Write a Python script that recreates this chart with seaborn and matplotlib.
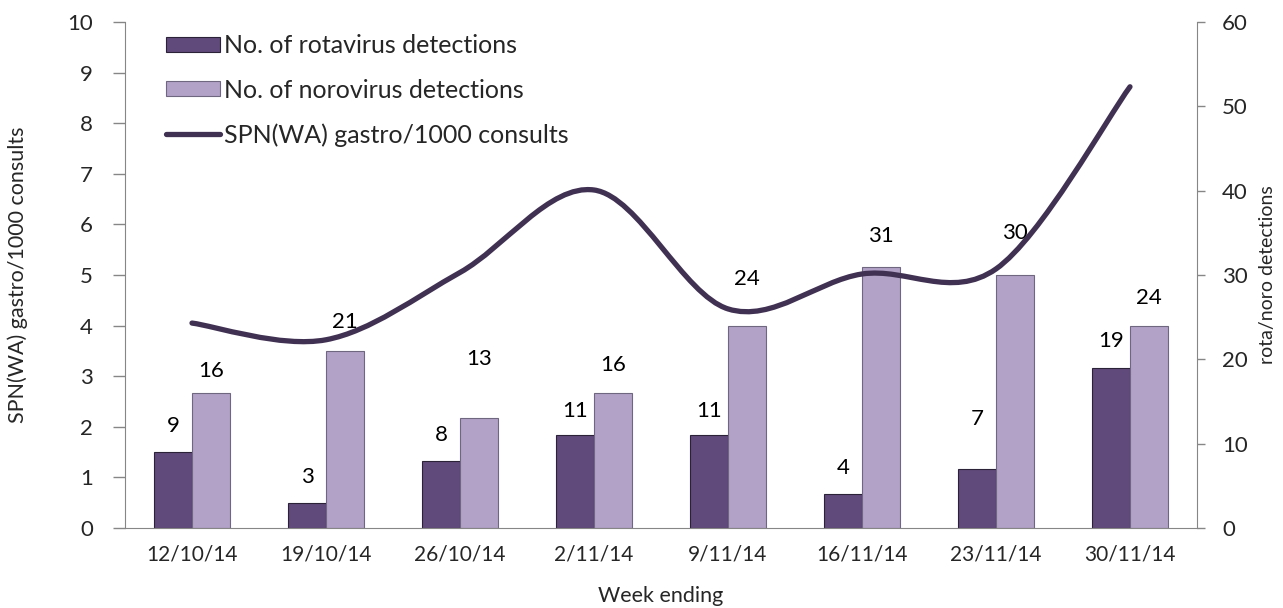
import numpy as np
import pandas as pd
import matplotlib
matplotlib.use("Agg")
import matplotlib.pyplot as plt
from matplotlib.path import Path
from matplotlib.patches import PathPatch, Patch
from matplotlib.lines import Line2D
import seaborn as sns

# data
weeks = ["12/10/14", "19/10/14", "26/10/14", "2/11/14", "9/11/14", "16/11/14", "23/11/14", "30/11/14"]
rota = [9, 3, 8, 11, 11, 4, 7, 19]
noro = [16, 21, 13, 16, 24, 31, 30, 24]
gastro = [4.05, 3.72, 5.05, 6.68, 4.33, 5.02, 5.12, 8.72]

rota_name = "No. of rotavirus detections"
noro_name = "No. of norovirus detections"
line_name = "SPN(WA) gastro/1000 consults"

# label nudges above bar tops, in pixels (Excel labels were moved by hand)
rota_dy = [26, 26, 26, 24, 24, 26, 50, 27]
noro_dy = [22, 29, 59, 28, 47, 31, 42, 28]

ROTA_C = "#604A7B"
NORO_C = "#B3A2C7"
LINE_C = "#403152"
AXIS_C = "#868686"

sns.set_style("white")
plt.rcParams["font.family"] = ["Lato", "DejaVu Sans"]

df = pd.DataFrame({
    "week": weeks * 2,
    "count": rota + noro,
    "virus": [rota_name] * len(weeks) + [noro_name] * len(weeks),
})

fig = plt.figure(figsize=(12.83, 6.08), dpi=100)
ax = fig.add_axes([125 / 1283, 1 - 528 / 608, (1197 - 125) / 1283, (528 - 22) / 608])

sns.barplot(data=df, x="week", y="count", hue="virus", order=weeks,
            hue_order=[rota_name, noro_name], palette=[ROTA_C, NORO_C],
            width=0.567, gap=0, saturation=1, ax=ax, legend=False)

for bar in ax.containers[0]:
    bar.set_edgecolor("#2B2238")
    bar.set_linewidth(0.8)
for bar in ax.containers[1]:
    bar.set_edgecolor("#6F6680")
    bar.set_linewidth(0.8)

# data labels
for cont, dys in [(ax.containers[0], rota_dy), (ax.containers[1], noro_dy)]:
    for bar, dy in zip(cont, dys):
        h = bar.get_height()
        ax.annotate(f"{int(h)}", (bar.get_x() + bar.get_width() / 2, h),
                    xytext=(0, dy), textcoords="offset pixels",
                    ha="center", va="center", fontsize=16, color="black")

# line on the left axis (twin sits above the bars)
lax = ax.twinx()

ax.set_ylim(0, 60)
ax.set_xlim(-0.5, len(weeks) - 0.5)
ax.yaxis.tick_right()
ax.yaxis.set_label_position("right")
ax.set_yticks(np.arange(0, 61, 10))
ax.set_ylabel("rota/noro detections", fontsize=14, labelpad=8)
ax.set_xlabel("Week ending", fontsize=15.5, labelpad=15)

# category labels centred, tick marks on boundaries
ax.set_xticks(np.arange(-0.5, len(weeks), 1))
ax.set_xticklabels([])
ax.set_xticks(np.arange(len(weeks)), minor=True)
ax.set_xticklabels(weeks, minor=True, fontsize=15)
ax.tick_params(axis="x", which="major", length=7, width=1, color=AXIS_C, direction="out")
ax.tick_params(axis="x", which="minor", length=0, pad=12)
ax.tick_params(axis="y", length=6, width=1, color=AXIS_C, labelsize=16, pad=12, direction="out")

lax.yaxis.tick_left()
lax.yaxis.set_label_position("left")
lax.set_ylim(0, 10)
lax.set_yticks(np.arange(0, 11, 1))
lax.tick_params(axis="y", length=9, width=1, color=AXIS_C, labelsize=16, pad=14, direction="out")
lax.set_ylabel(line_name, fontsize=15.5, labelpad=28)

# smoothed like Excel: Bezier segments through the points
xs = np.arange(len(gastro), dtype=float)
ys = np.array(gastro)
verts = [(xs[0], ys[0])]
codes = [Path.MOVETO]
n = len(xs)
for i in range(n - 1):
    p0 = np.array([xs[max(i - 1, 0)], ys[max(i - 1, 0)]])
    p1 = np.array([xs[i], ys[i]])
    p2 = np.array([xs[i + 1], ys[i + 1]])
    p3 = np.array([xs[min(i + 2, n - 1)], ys[min(i + 2, n - 1)]])
    c1 = p1 + (p2 - p0) / 6
    c2 = p2 - (p3 - p1) / 6
    verts += [tuple(c1), tuple(c2), tuple(p2)]
    codes += [Path.CURVE4] * 3
lax.add_patch(PathPatch(Path(verts, codes), facecolor="none", edgecolor=LINE_C,
                        linewidth=3.8, capstyle="round", zorder=3))

for a in (ax, lax):
    for s in a.spines.values():
        s.set_visible(False)
ax.spines["bottom"].set_visible(True)
ax.spines["bottom"].set_color(AXIS_C)
ax.spines["right"].set_visible(True)
ax.spines["right"].set_color(AXIS_C)
lax.spines["left"].set_visible(True)
lax.spines["left"].set_color(AXIS_C)

handles = [Patch(facecolor=ROTA_C, edgecolor="#2B2238", linewidth=0.8),
           Patch(facecolor=NORO_C, edgecolor="#6F6680", linewidth=0.8),
           Line2D([], [], color=LINE_C, linewidth=3.8)]
lax.legend(handles, [rota_name, noro_name, line_name], loc="upper left",
           bbox_to_anchor=(166 / 1283, 1 - 34 / 608), bbox_transform=fig.transFigure,
           frameon=False, fontsize=18, handlelength=2.15, handleheight=0.55,
           handletextpad=0.15, labelspacing=0.86, borderaxespad=0, borderpad=0)

plt.savefig("out.png", dpi=100)
